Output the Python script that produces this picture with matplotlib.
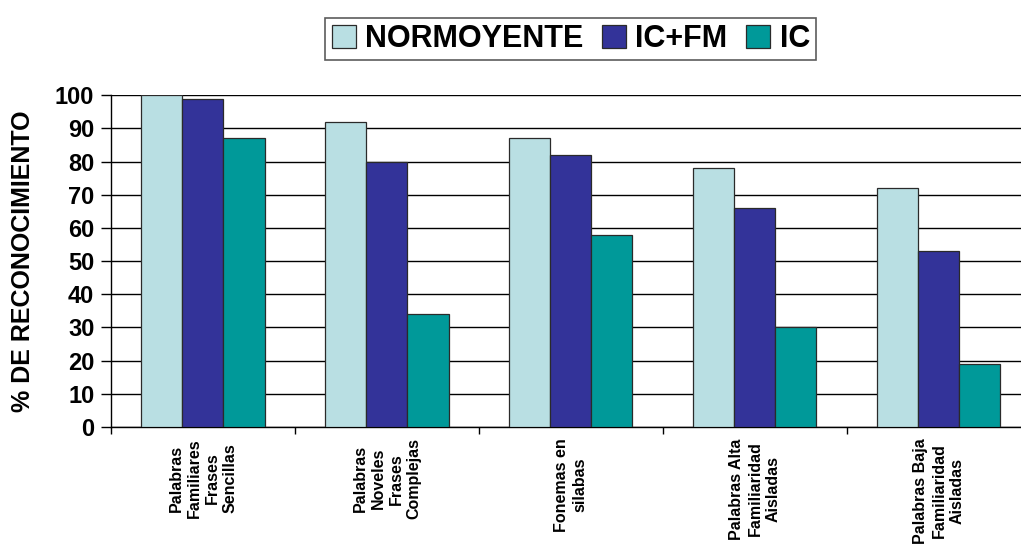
import matplotlib.pyplot as plt
import numpy as np
from matplotlib.patches import Patch

CATEGORIES = [
    "Palabras\nFamiliares\nFrases\nSencillas",
    "Palabras\nNoveles\nFrases\nComplejas",
    "Fonemas en\nsilabas",
    "Palabras Alta\nFamiliaridad\nAisladas",
    "Palabras Baja\nFamiliaridad\nAisladas",
]
SERIES = ["NORMOYENTE", "IC+FM", "IC"]
NORMOYENTE = [100, 92, 87, 78, 72]
IC_FM = [99, 80, 82, 66, 53]
IC = [87, 34, 58, 30, 19]
Y_TICKS = list(range(0, 101, 10))

COLOURS = ["#B9DFE3", "#333399", "#009999"]

plt.rcParams["font.family"] = ["Liberation Sans", "DejaVu Sans"]
plt.rcParams["font.weight"] = "bold"

fig = plt.figure(figsize=(10.21, 5.44), dpi=100)
ax = fig.add_axes([0.1087, 0.215, 0.901, 0.610])

x = np.arange(len(CATEGORIES))
width = 0.223
for i, (vals, col) in enumerate(zip([NORMOYENTE, IC_FM, IC], COLOURS)):
    ax.bar(x + (i - 1) * width, vals, width, color=col, edgecolor="#2a2a2a",
           linewidth=0.9, zorder=3)

ax.set_xlim(-0.5, len(CATEGORIES) - 0.5)
ax.set_ylim(0, 100)
ax.set_yticks(Y_TICKS)
ax.set_yticklabels([str(v) for v in Y_TICKS], fontsize=17, fontweight="bold")
ax.yaxis.grid(True, color="black", linewidth=1.0, zorder=0)
ax.set_axisbelow(True)
ax.tick_params(axis="y", direction="out", length=7, width=1.0, pad=5)

ax.set_xticks(np.arange(len(CATEGORIES) + 1) - 0.5)
ax.set_xticklabels([])
ax.tick_params(axis="x", which="major", direction="out", length=5, width=1.0)
ax.set_xticks(x, minor=True)
ax.set_xticklabels(CATEGORIES, minor=True, rotation=90, fontsize=11.5,
                   fontweight="bold", multialignment="center", va="top", ha="center",
                   linespacing=1.25)
ax.tick_params(axis="x", which="minor", length=0, pad=8)

for side in ["top", "right"]:
    ax.spines[side].set_visible(False)
ax.spines["left"].set_linewidth(1.0)
ax.spines["bottom"].set_linewidth(1.0)

ax.set_ylabel("% DE RECONOCIMIENTO", fontsize=18, fontweight="bold")
ax.yaxis.set_label_coords(-0.083, 0.5)

handles = [Patch(facecolor=c, edgecolor="#2a2a2a", linewidth=0.9) for c in COLOURS]
leg = fig.legend(handles, SERIES, loc="center", bbox_to_anchor=(0.559, 0.928), ncol=3,
                 frameon=True, fancybox=False, edgecolor="#333333",
                 prop={"size": 22, "weight": "bold"},
                 handlelength=0.8, handleheight=0.8, handletextpad=0.3,
                 columnspacing=0.6, borderpad=0.2)
leg.get_frame().set_linewidth(1.2)

fig.savefig("out.png", dpi=100)
